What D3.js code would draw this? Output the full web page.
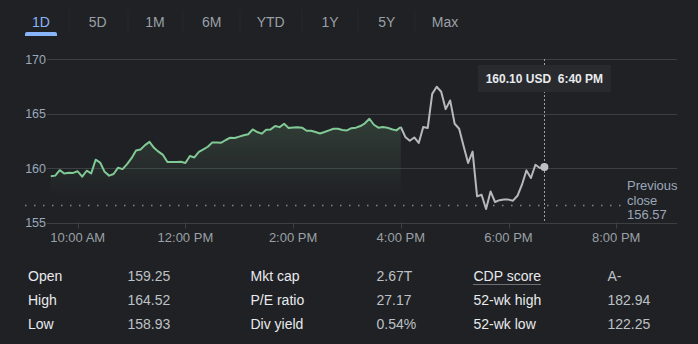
<!DOCTYPE html>
<html><head><meta charset="utf-8">
<script src="https://cdn.jsdelivr.net/npm/d3@7"></script>
<style>
html,body{margin:0;padding:0;background:#202124;}
svg{display:block;font-family:Arial,"Liberation Sans",sans-serif;}
</style></head>
<body><svg id="c" width="698" height="344"></svg>
<script>
const tabs = ["1D","5D","1M","6M","YTD","1Y","5Y","Max"];
const yTicks = [155,160,165,170];
const xTickLabels = ["10:00 AM","12:00 PM","2:00 PM","4:00 PM","6:00 PM","8:00 PM"];
const xTickTimes = ["10:00","12:00","14:00","16:00","18:00","20:00"];

const regularTimes = ["9:30","9:35","9:40","9:45","9:50","9:55","10:00","10:05","10:10","10:15","10:20","10:25","10:30","10:35","10:40","10:45","10:50","10:55",
"11:00","11:05","11:10","11:15","11:20","11:25","11:30","11:35","11:40","11:45","11:50","11:55",
"12:00","12:05","12:10","12:15","12:20","12:25","12:30","12:35","12:40","12:45","12:50","12:55",
"13:00","13:05","13:10","13:15","13:20","13:25","13:30","13:35","13:40","13:45","13:50","13:55",
"14:00","14:05","14:10","14:15","14:20","14:25","14:30","14:35","14:40","14:45","14:50","14:55",
"15:00","15:05","15:10","15:15","15:20","15:25","15:30","15:35","15:40","15:45","15:50","15:55","16:00"];
const regularValues = [159.25,159.3,159.8,159.5,159.57,159.55,159.7,159.2,159.75,159.5,160.76,160.5,159.65,159.3,159.45,160.03,159.9,160.35,
160.9,161.6,161.7,162.1,162.4,161.85,161.5,161.2,160.55,160.55,160.55,160.58,
160.46,161.1,160.97,161.47,161.7,161.95,162.35,162.35,162.32,162.57,162.78,162.75,
162.88,163.0,163.1,163.54,163.3,163.15,163.5,163.54,163.85,163.75,164.06,163.67,
163.72,163.74,163.7,163.42,163.42,163.3,163.17,163.3,163.45,163.6,163.6,163.48,
163.45,163.65,163.7,163.85,164.1,164.52,163.97,163.7,163.76,163.7,163.55,163.45,163.76];

const afterTimes = ["16:00","16:05","16:10","16:15","16:20","16:25","16:30","16:35","16:40","16:45","16:50","16:55",
"17:00","17:05","17:10","17:15","17:20","17:25","17:30","17:35","17:40","17:45","17:50","17:55",
"18:00","18:05","18:10","18:15","18:20","18:25","18:30","18:35","18:40"];
const afterValues = [163.76,162.85,162.5,162.8,162.3,163.76,163.67,166.8,167.45,167.0,165.4,166.2,
164.06,163.6,162.0,160.46,161.5,157.4,157.55,156.24,157.85,156.88,157.05,157.1,
157.1,157.0,157.45,158.47,159.78,159.08,160.3,160.0,160.1];

const previousClose = 156.57;
const tooltipPrice = "160.10 USD";
const tooltipTime = "6:40 PM";

const statLabels1 = ["Open","High","Low"];
const statValues1 = ["159.25","164.52","158.93"];
const statLabels2 = ["Mkt cap","P/E ratio","Div yield"];
const statValues2 = ["2.67T","27.17","0.54%"];
const statLabels3 = ["CDP score","52-wk high","52-wk low"];
const statValues3 = ["A-","182.94","122.25"];

const parse = s => { const [h,m] = s.split(":").map(Number); return new Date(2024,0,2,h,m); };
const svg = d3.select("#c");
svg.append("rect").attr("width",698).attr("height",344).attr("fill","#202124");

// Tabs
const tabX = [41,97.7,155,211.7,270.7,330,386.7,445];
const sepX = [69,128,183,240,302,358,415];
svg.selectAll(".sep").data(sepX).join("line")
  .attr("x1",d=>d).attr("x2",d=>d).attr("y1",10).attr("y2",32)
  .attr("stroke","#28292c").attr("stroke-width",1);
svg.selectAll(".tab").data(tabs).join("text")
  .attr("x",(d,i)=>tabX[i]).attr("y",26.5).attr("text-anchor","middle")
  .attr("font-size",14).attr("fill",(d,i)=>i===0?"#8ab4f8":"#9aa0a6").text(d=>d);
svg.append("path").attr("d","M25,36 L25,34 Q25,32 27,32 L55,32 Q57,32 57,34 L57,36 Z").attr("fill","#8ab4f8");

// Scales
const x = d3.scaleTime().domain([parse("10:00"),parse("20:00")]).range([77.7,616.2]);
const y = d3.scaleLinear().domain([155,170]).range([222.5,59]);

// Grid
svg.selectAll(".grid").data(yTicks).join("line")
  .attr("x1",47).attr("x2",677).attr("y1",d=>Math.round(y(d))+0.5).attr("y2",d=>Math.round(y(d))+0.5)
  .attr("stroke","#3c4043").attr("stroke-width",1);
svg.selectAll(".ylab").data(yTicks).join("text")
  .attr("x",46).attr("y",d=>y(d)+4.5).attr("text-anchor","end")
  .attr("font-size",12.5).attr("fill","#9aa8ba").text(d=>d);

// X ticks
svg.selectAll(".xt").data(xTickTimes).join("line")
  .attr("x1",d=>Math.round(x(parse(d)))+0.5).attr("x2",d=>Math.round(x(parse(d)))+0.5)
  .attr("y1",y(155)).attr("y2",y(155)+6).attr("stroke","#3c4043");
svg.selectAll(".xl").data(xTickTimes).join("text")
  .attr("x",d=>x(parse(d))).attr("y",242).attr("text-anchor","middle")
  .attr("font-size",13).attr("fill","#9aa0a6").text((d,i)=>xTickLabels[i]);

// Area gradient
const defs = svg.append("defs");
const g = defs.append("linearGradient").attr("id","ag").attr("gradientUnits","userSpaceOnUse")
  .attr("x1",0).attr("x2",0).attr("y1",y(164)).attr("y2",y(157.5));
g.append("stop").attr("offset",0).attr("stop-color","#81c995").attr("stop-opacity",0.16);
g.append("stop").attr("offset",1).attr("stop-color","#81c995").attr("stop-opacity",0);

const reg = regularTimes.map((t,i)=>({t:parse(t),v:regularValues[i]}));
const aft = afterTimes.map((t,i)=>({t:parse(t),v:afterValues[i]}));

svg.append("path").datum(reg)
  .attr("d",d3.area().x(d=>x(d.t)).y0(y(157.5)).y1(d=>y(d.v)))
  .attr("fill","url(#ag)");

// Previous close dotted line
svg.append("line").attr("x1",25).attr("x2",622).attr("y1",y(previousClose)).attr("y2",y(previousClose))
  .attr("stroke","#80868b").attr("stroke-width",1.5).attr("stroke-dasharray","1.5,7.5");

// Lines
svg.append("path").datum(aft)
  .attr("d",d3.line().x(d=>x(d.t)).y(d=>y(d.v)))
  .attr("fill","none").attr("stroke","#b5b8bd").attr("stroke-width",2).attr("stroke-linejoin","round");
svg.append("path").datum(reg)
  .attr("d",d3.line().x(d=>x(d.t)).y(d=>y(d.v)))
  .attr("fill","none").attr("stroke","#81c995").attr("stroke-width",2).attr("stroke-linejoin","round");

// Previous close label
const pc = svg.append("text").attr("font-size",13).attr("fill","#9aa8ba");
["Previous","close",previousClose.toFixed(2)].forEach((s,i)=>{
  pc.append("tspan").attr("x",627).attr("y",190+i*14.7).text(s);
});

// Hover marker
const last = aft[aft.length-1];
const hx = Math.round(x(last.t))+0.5;
svg.append("line").attr("x1",hx).attr("x2",hx).attr("y1",y(170)).attr("y2",y(155)-1)
  .attr("stroke","#9aa0a6").attr("stroke-width",1).attr("stroke-dasharray","2,2");
svg.append("rect").attr("x",x(last.t)-66.5).attr("y",65).attr("width",133).attr("height",27)
  .attr("fill","#292a2d");
svg.append("text").attr("x",x(last.t)).attr("y",82.5).attr("text-anchor","middle")
  .attr("font-size",12).attr("font-weight","bold").attr("fill","#e8eaed")
  .style("white-space","pre").text(tooltipPrice+"  "+tooltipTime);
svg.append("circle").attr("cx",x(last.t)).attr("cy",y(last.v)).attr("r",4).attr("fill","#bdc1c6");

// Stats
const rowsY = [281,305,329];
const cols = [
  {x:28, data:statLabels1, fill:"#e8eaed"},
  {x:127.5, data:statValues1, fill:"#bdc1c6"},
  {x:250.5, data:statLabels2, fill:"#e8eaed"},
  {x:376.5, data:statValues2, fill:"#bdc1c6"},
  {x:473.5, data:statLabels3, fill:"#e8eaed"},
  {x:607.5, data:statValues3, fill:"#bdc1c6"}
];
cols.forEach(c=>{
  svg.selectAll(null).data(c.data).join("text")
    .attr("x",c.x).attr("y",(d,i)=>rowsY[i]).attr("font-size",14).attr("fill",c.fill).text(d=>d);
});
// dotted underline under CDP score
svg.append("line").attr("x1",473.5).attr("x2",540.5).attr("y1",284.5).attr("y2",284.5)
  .attr("stroke","#bdc1c6").attr("stroke-width",1).attr("stroke-dasharray","1,1");
</script></body></html>
